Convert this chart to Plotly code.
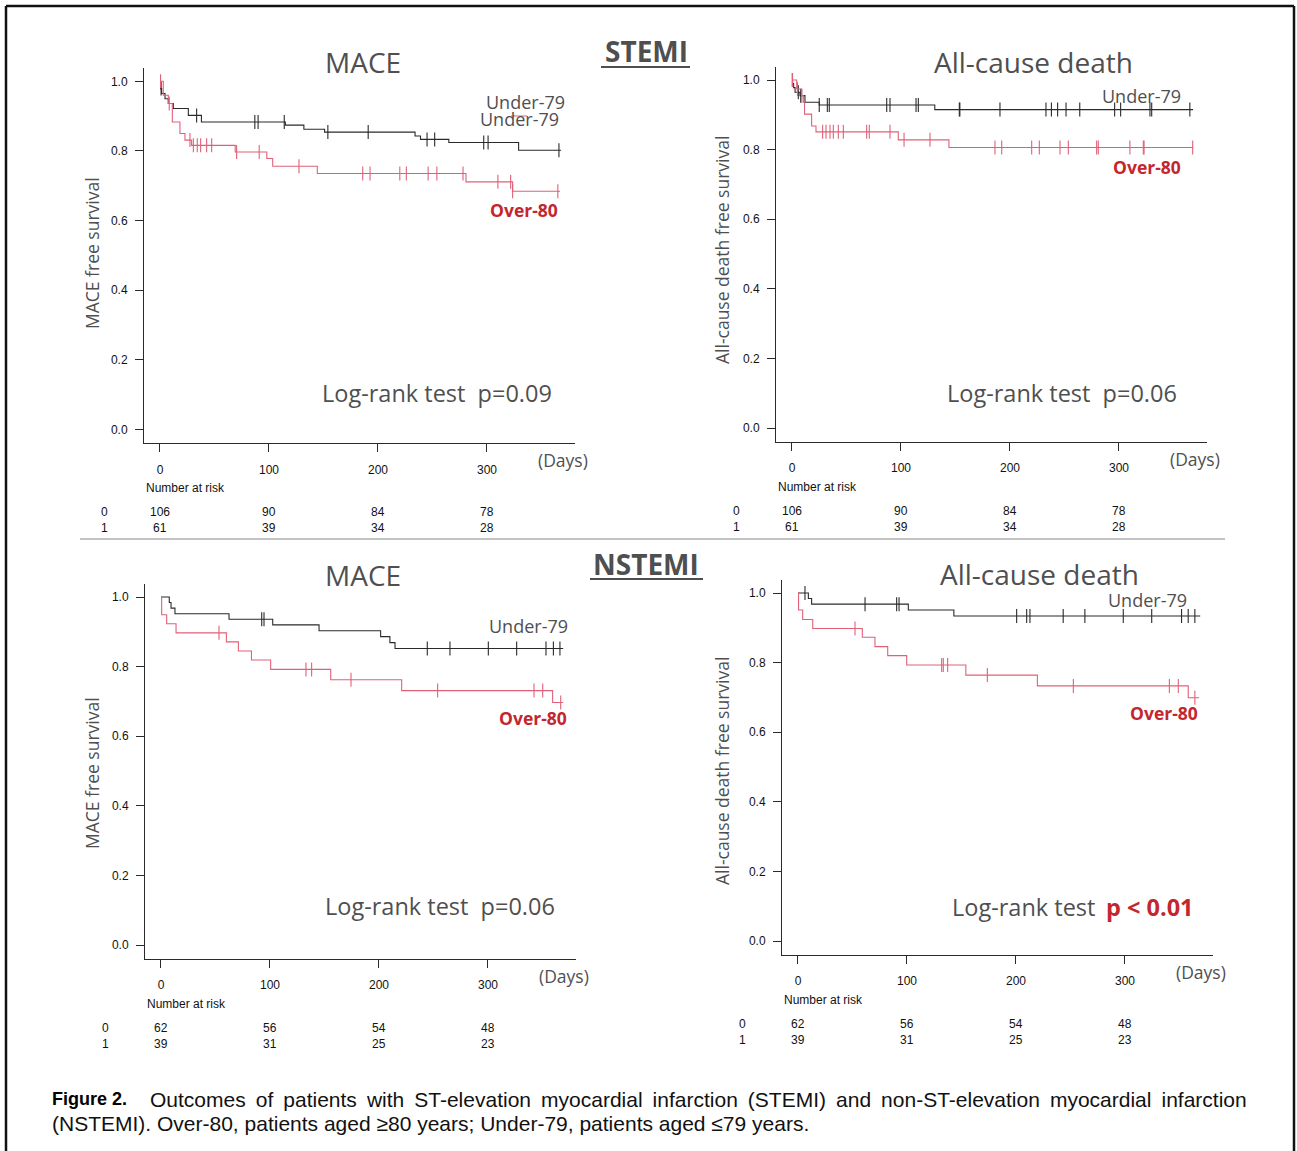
import plotly.graph_objects as go

W, H = 1297, 1151

# ---------------- data ----------------
days_ticks = [0, 100, 200, 300]
surv_ticks = [0.0, 0.2, 0.4, 0.6, 0.8, 1.0]
surv_tick_text = ["0.0", "0.2", "0.4", "0.6", "0.8", "1.0"]

# STEMI - MACE
p1_u79_t = [0, 0.5, 1.5, 4.6, 7.6, 12.2, 26, 38, 115, 132, 151, 234, 239, 265, 329, 368]
p1_u79_s = [1.0, 0.979, 0.965, 0.950, 0.936, 0.922, 0.902, 0.883, 0.874, 0.862, 0.854, 0.843, 0.833, 0.824, 0.802, 0.802]
p1_u79_c = [1, 33.6, 87, 90, 114, 154, 191, 245, 252, 297, 301, 366]
p1_o80_t = [0, 3, 7.6, 11.3, 18.3, 22.9, 29, 69, 98, 103.4, 144.3, 280.7, 323.5, 367]
p1_o80_s = [1.0, 0.960, 0.936, 0.883, 0.850, 0.831, 0.816, 0.797, 0.778, 0.756, 0.735, 0.711, 0.684, 0.684]
p1_o80_c = [0.5, 8.5, 27.5, 30.6, 34.2, 37.3, 42.8, 47.4, 70.3, 91, 127.5, 186, 192.7, 220, 226,
            246, 254, 278, 310, 321.7, 323.5, 365]

# STEMI - All-cause death
p2_u79_t = [0, 0.5, 1.5, 2.8, 7.3, 11.9, 25, 131, 368]
p2_u79_s = [1.0, 0.99, 0.978, 0.965, 0.955, 0.936, 0.928, 0.915, 0.915]
p2_u79_c = [0.3, 5.8, 8, 25, 32.4, 34.2, 86.9, 89.9, 113.8, 115.9, 153.5, 154, 190.8, 233, 238,
            243.7, 251.4, 264, 296, 301.5, 328.4, 330, 365]
p2_o80_t = [0, 4.3, 8.9, 10.4, 11.5, 18, 22, 97.5, 144, 368]
p2_o80_s = [1.0, 0.974, 0.955, 0.936, 0.902, 0.868, 0.851, 0.828, 0.806, 0.806]
p2_o80_c = [0.5, 5, 9, 28.1, 31.2, 34.9, 37.9, 42.5, 47.1, 68.5, 70.9, 89.9, 102.8, 126.6, 186.2,
            192.4, 219.9, 226.9, 245.9, 253.5, 279.5, 281, 310, 322.3, 323, 367.6]

# NSTEMI - MACE
p3_u79_t = [0, 7.6, 9.2, 12.8, 62.4, 102.5, 145, 201.5, 210, 214.7, 369]
p3_u79_s = [1.0, 0.984, 0.968, 0.952, 0.936, 0.920, 0.903, 0.886, 0.869, 0.852, 0.852]
p3_u79_c = [92.4, 94.5, 244.3, 265.1, 300.3, 326.3, 353.2, 360, 366]
p3_o80_t = [0, 0.6, 5.2, 13.8, 60, 71, 83, 100.6, 155.7, 220.8, 359.3, 369]
p3_o80_s = [1.0, 0.949, 0.923, 0.897, 0.871, 0.845, 0.819, 0.792, 0.762, 0.731, 0.697, 0.697]
p3_o80_c = [53.2, 133, 138.2, 174.3, 253.8, 342.2, 350.2, 366.7]

# NSTEMI - All-cause death
p4_u79_t = [0, 9.5, 12.5, 101.2, 143, 369]
p4_u79_s = [1.0, 0.984, 0.968, 0.951, 0.934, 0.934]
p4_u79_c = [6.4, 61.5, 90.5, 92.7, 200.6, 209.8, 212.8, 243.3, 263.2, 298.4, 324.5, 351.9, 358, 364.1]
p4_o80_t = [0, 0.5, 4.3, 13.5, 59, 70.6, 82.3, 99.7, 154, 219.6, 358, 368]
p4_o80_s = [1.0, 0.951, 0.924, 0.898, 0.873, 0.846, 0.820, 0.793, 0.764, 0.733, 0.699, 0.699]
p4_o80_c = [52.3, 131.8, 133.3, 137.3, 173.7, 252.6, 340.7, 348.9, 364.1]

# numbers at risk
stemi_risk_0 = ["106", "90", "84", "78"]
stemi_risk_1 = ["61", "39", "34", "28"]
nstemi_risk_0 = ["62", "56", "54", "48"]
nstemi_risk_1 = ["39", "31", "25", "23"]

panel_titles = ["MACE", "All-cause death", "MACE", "All-cause death"]
y_titles = ["MACE free survival", "All-cause death free survival",
            "MACE free survival", "All-cause death free survival"]
p_values = ["p=0.09", "p=0.06", "p=0.06", "p < 0.01"]

# ---------------- styles ----------------
BLACK = "#2a2a2a"
RED_LINE = "#e06078"
RED_TXT = "#c4262e"
GRAY_TXT = "#4f4f4f"
TFONT = "Open Sans"
NUMF = "Liberation Sans, Arial"

X_RANGE = [-14.7, 380.5]
Y_RANGE = [-0.040, 1.037]
PXD = 1.09   # px per day
PXS = 348.0  # px per survival unit


def px(x):
    return x / W


def py(y):
    return 1 - y / H


# panel anchors: (pixel x of day 0, pixel y of surv 0)
panels = [
    dict(x0=160, y0=429.3, u=(p1_u79_t, p1_u79_s, p1_u79_c), o=(p1_o80_t, p1_o80_s, p1_o80_c),
         risk=(stemi_risk_0, stemi_risk_1)),
    dict(x0=792, y0=428.0, u=(p2_u79_t, p2_u79_s, p2_u79_c), o=(p2_o80_t, p2_o80_s, p2_o80_c),
         risk=(stemi_risk_0, stemi_risk_1)),
    dict(x0=161, y0=945.0, u=(p3_u79_t, p3_u79_s, p3_u79_c), o=(p3_o80_t, p3_o80_s, p3_o80_c),
         risk=(nstemi_risk_0, nstemi_risk_1)),
    dict(x0=798, y0=941.0, u=(p4_u79_t, p4_u79_s, p4_u79_c), o=(p4_o80_t, p4_o80_s, p4_o80_c),
         risk=(nstemi_risk_0, nstemi_risk_1)),
]


def step_val(ts, ss, t):
    v = ss[0]
    for ti, si in zip(ts, ss):
        if ti <= t:
            v = si
    return v


fig = go.Figure()
layout_axes = {}
annotations = []
shapes = []


def ann(text, x, y, size, color, family=TFONT, xanchor="center", yanchor="middle",
        textangle=0, xref="paper", yref="paper"):
    annotations.append(dict(text=text, x=x, y=y, xref=xref, yref=yref, showarrow=False,
                            font=dict(size=size, color=color, family=family),
                            xanchor=xanchor, yanchor=yanchor, textangle=textangle))


for i, p in enumerate(panels):
    k = "" if i == 0 else str(i + 1)
    xa, ya = "x" + k, "y" + k
    left = p["x0"] + X_RANGE[0] * PXD
    right = p["x0"] + X_RANGE[1] * PXD
    top = p["y0"] - Y_RANGE[1] * PXS
    bottom = p["y0"] - Y_RANGE[0] * PXS
    layout_axes["xaxis" + k] = dict(
        domain=[px(left), px(right)], range=X_RANGE, anchor=ya,
        tickvals=days_ticks, ticks="outside", ticklen=8, tickcolor=BLACK, tickwidth=1,
        showline=True, linecolor=BLACK, linewidth=1, showgrid=False, zeroline=False,
        tickfont=dict(family=NUMF, size=12, color="#111"),
        ticklabelstandoff=7, fixedrange=True)
    layout_axes["yaxis" + k] = dict(
        domain=[py(bottom), py(top)], range=Y_RANGE, anchor=xa,
        tickvals=surv_ticks, ticktext=surv_tick_text, ticks="outside", ticklen=8,
        tickcolor=BLACK, tickwidth=1,
        showline=True, linecolor=BLACK, linewidth=1, showgrid=False, zeroline=False,
        tickfont=dict(family=NUMF, size=12, color="#111"),
        ticklabelstandoff=5, fixedrange=True)

    for (ts, ss, cs), lc in ((p["u"], BLACK), (p["o"], RED_LINE)):
        fig.add_trace(go.Scatter(x=ts, y=ss, mode="lines", line=dict(color=lc, width=1.1, shape="hv"),
                                 xaxis=xa, yaxis=ya, showlegend=False, hoverinfo="skip"))
        fig.add_trace(go.Scatter(x=cs, y=[step_val(ts, ss, c) for c in cs], mode="markers",
                                 marker=dict(symbol="line-ns", size=10, line=dict(color=lc, width=1.1)),
                                 xaxis=xa, yaxis=ya, showlegend=False, hoverinfo="skip"))

    # number at risk table (numbers aligned on the day axis)
    r0, r1 = p["risk"]
    ytab = bottom + 45
    ann("Number at risk", px(left), py(ytab), 12, "#111", NUMF, xanchor="left")
    ann("0", px(left - 39), py(ytab + 24), 12, "#111", NUMF)
    ann("1", px(left - 39), py(ytab + 40), 12, "#111", NUMF)
    for d, a, b in zip(days_ticks, r0, r1):
        ann(a, d, py(ytab + 24), 12, "#111", NUMF, xref=xa)
        ann(b, d, py(ytab + 40), 12, "#111", NUMF, xref=xa)
    ann("(Days)", px(right - 12), py(bottom + 17), 17.5, GRAY_TXT)

# titles, axis titles, log-rank texts
title_pos = [(363, 62), (1033, 62), (363, 575), (1039, 574)]
ytitle_pos = [(92, 253), (722, 250), (92, 773), (722, 771)]
for i in range(4):
    ann(panel_titles[i], px(title_pos[i][0]), py(title_pos[i][1]), 28, GRAY_TXT)
    ann(y_titles[i], px(ytitle_pos[i][0]), py(ytitle_pos[i][1]), 17.5, GRAY_TXT, textangle=-90)

LR = 23.5
ann("Log-rank test  " + p_values[0], px(437), py(393), LR, GRAY_TXT)
ann("Log-rank test  " + p_values[1], px(1062), py(393), LR, GRAY_TXT)
ann("Log-rank test  " + p_values[2], px(440), py(906), LR, GRAY_TXT)
ann("Log-rank test", px(1023), py(907), LR, GRAY_TXT)
ann("<b>" + p_values[3] + "</b>", px(1150), py(907), LR, RED_TXT)

# curve labels
LB = 18
ann("Under-79", px(525), py(102), LB, GRAY_TXT)
ann("Under-79", px(519), py(119), LB, GRAY_TXT)
ann("<b>Over-80</b>", px(524), py(210), 17.5, RED_TXT)
ann("Under-79", px(1141), py(96), LB, GRAY_TXT)
ann("<b>Over-80</b>", px(1147), py(167), 17.5, RED_TXT)
ann("Under-79", px(528), py(626), LB, GRAY_TXT)
ann("<b>Over-80</b>", px(533), py(718), 17.5, RED_TXT)
ann("Under-79", px(1147), py(600), LB, GRAY_TXT)
ann("<b>Over-80</b>", px(1164), py(713), 17.5, RED_TXT)

# section titles
ann("<b>STEMI</b>", px(646), py(51), 28, GRAY_TXT, family="Open Sans")
ann("<b>NSTEMI</b>", px(646), py(564), 28, GRAY_TXT, family="Open Sans")

# caption
CAP = "Liberation Sans, Arial"
ann("<b>Figure 2.</b>", px(50), py(1099), 18, "#000",
    family="Liberation Sans Narrow, Arial Narrow, Liberation Sans", xanchor="left")
line1 = ["Outcomes", "of", "patients", "with", "ST-elevation", "myocardial", "infarction",
         "(STEMI)", "and", "non-ST-elevation", "myocardial", "infarction"]
ann(" \u2009".join(line1), px(148), py(1099), 21, "#111", family=CAP, xanchor="left")
ann("(NSTEMI). Over-80, patients aged \u226580 years; Under-79, patients aged \u226479 years.",
    px(50), py(1123), 21, "#111", family=CAP, xanchor="left")


def line(x0, y0, x1, y1, color, width):
    shapes.append(dict(type="line", xref="paper", yref="paper", x0=px(x0), y0=py(y0),
                       x1=px(x1), y1=py(y1), line=dict(color=color, width=width)))


# underlines of section titles
line(601, 67, 690, 67, GRAY_TXT, 2)
line(590, 579, 703, 579, GRAY_TXT, 2)
# separator
line(80, 539, 1225, 539, "#888888", 1.2)
# frame
line(6, 6, 1294, 6, "#111", 2.5)
line(6, 6, 6, 1151, "#111", 2.5)
line(1294, 6, 1294, 1151, "#111", 2.5)
# small red stroke over duplicated label
line(511, 116, 527, 116, RED_LINE, 1)

fig.update_layout(width=W, height=H, margin=dict(l=0, r=0, t=0, b=0),
                  paper_bgcolor="white", plot_bgcolor="white",
                  annotations=annotations, shapes=shapes, **layout_axes)

fig.write_html("out.html", config={"displayModeBar": False},
               post_script="document.body.style.margin='0';document.body.style.overflow='hidden';")
